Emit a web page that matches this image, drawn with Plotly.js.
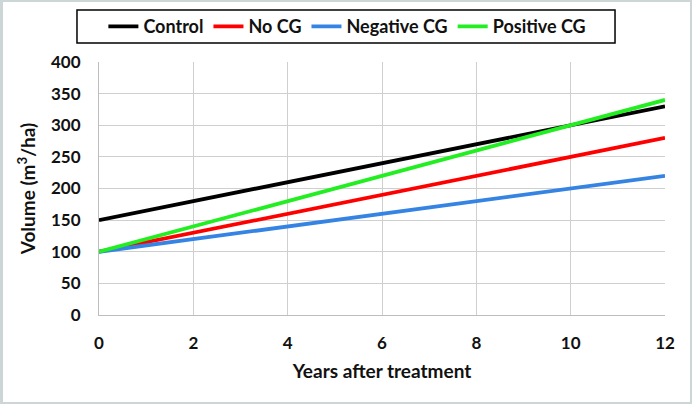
<!DOCTYPE html>
<html><head><meta charset="utf-8">
<script src="https://cdn.plot.ly/plotly-3.0.1.min.js"></script>
<style>
html,body{margin:0;padding:0;background:#fff;}
#frame{width:692px;height:404px;box-sizing:border-box;border:2px solid #cdd6d6;border-width:2px 2px 2px 3px;position:relative;overflow:hidden;}
#chart{position:absolute;left:-3px;top:-2px;width:692px;height:404px;}
</style></head>
<body><div id="frame"><div id="chart"></div></div>
<script>
const years = [0, 12];
const control = [150, 330];
const noCG = [100, 280];
const negativeCG = [100, 220];
const positiveCG = [100, 340];
const names = ["Control", "No CG", "Negative CG", "Positive CG"];
const colors = ["#000000", "#ff0000", "#3584e4", "#22ee22"];
const series = [control, noCG, negativeCG, positiveCG];

const traces = series.map((s, i) => ({
  x: years, y: s, mode: "lines", name: names[i],
  line: {color: colors[i], width: 3.8}
}));

const fam = "Lato, 'Open Sans', sans-serif";
const layout = {
  width: 692, height: 404,
  margin: {l: 99, r: 27, t: 62, b: 89},
  paper_bgcolor: "rgba(0,0,0,0)", plot_bgcolor: "#fff",
  font: {family: fam, color: "#111", size: 17, weight: 700},
  showlegend: true,
  legend: {orientation: "h", x: 0.502, xanchor: "center", y: 0.934, yanchor: "middle",
    xref: "container", yref: "container",
    borderwidth: 0, bgcolor: "rgba(0,0,0,0)",
    font: {family: fam, size: 18, color: "#111", weight: 700},
    tracegroupgap: 0},
  shapes: [{type: "rect", xref: "paper", yref: "paper", x0: -0.0389, x1: 0.9117, y0: 1.075, y1: 1.2055,
    line: {color: "#000", width: 1.5}, fillcolor: "rgba(0,0,0,0)", layer: "above"}],
  xaxis: {range: [0, 12], dtick: 2, tick0: 0, showgrid: true, gridcolor: "#cfcfcf", gridwidth: 1,
    zeroline: false, showline: true, linecolor: "#bdbdbd", linewidth: 1, ticks: "",
    ticklabelstandoff: 13,
    tickfont: {family: fam, size: 17, color: "#111", weight: 700},
    title: {text: "Years after treatment", font: {family: fam, size: 19, color: "#111", weight: 700}, standoff: 12}},
  yaxis: {range: [0, 400], dtick: 50, tick0: 0, showgrid: true, gridcolor: "#cfcfcf", gridwidth: 1,
    zeroline: false, showline: true, linecolor: "#bdbdbd", linewidth: 1, ticks: "",
    ticklabelstandoff: 14,
    tickfont: {family: fam, size: 17, color: "#111", weight: 700},
    title: {text: "Volume (m<sup>3</sup>/ha)", font: {family: fam, size: 19, color: "#111", weight: 700}, standoff: 10}}
};
Plotly.newPlot("chart", traces, layout, {displayModeBar: false, staticPlot: true});
</script></body></html>
